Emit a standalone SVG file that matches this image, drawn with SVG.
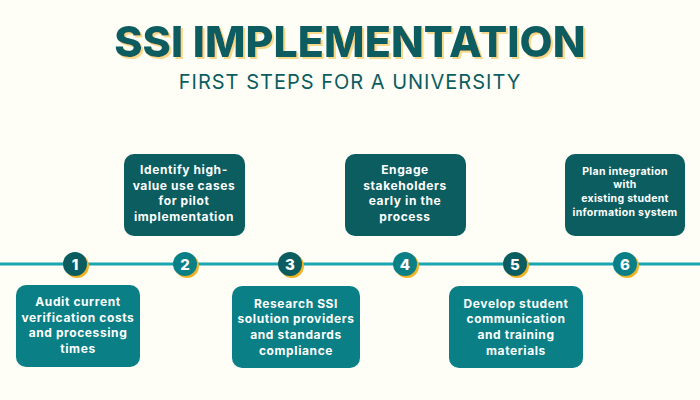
<svg xmlns="http://www.w3.org/2000/svg" width="700" height="400" viewBox="0 0 700 400">
<defs><filter id="sh" x="-5%" y="-20%" width="110%" height="140%"><feDropShadow dx="2" dy="2" stdDeviation="0" flood-color="#f7d98a"/></filter></defs>
<style>
.t{font-family:Inter,"Liberation Sans",sans-serif;font-weight:700;font-size:12px;fill:#fff;text-anchor:middle;letter-spacing:0.6px}
.n{font-family:Inter,"Liberation Sans",sans-serif;font-weight:800;font-size:15px;fill:#fff;text-anchor:middle}
.d{fill:#0b5d60}.l{fill:#0a8086}
</style>
<rect width="700" height="400" fill="#fefdf6"/>
<g id="title">
<text x="350" y="57" font-family="Inter,'Liberation Sans',sans-serif" font-weight="800" font-size="43" fill="#0b5d60" text-anchor="middle" filter="url(#sh)">SSI IMPLEMENTATION</text>
<text x="350" y="89" font-family="Inter,'Liberation Sans',sans-serif" font-size="20" fill="#0b5d60" text-anchor="middle" letter-spacing="1">FIRST STEPS FOR A UNIVERSITY</text>
</g>
<g id="connectors"><line x1="0" y1="264" x2="700" y2="264" stroke="#1aa6b0" stroke-width="3"/></g>
<g id="m1"><circle cx="77" cy="266" r="12" fill="#f0b323"/><circle cx="75" cy="264" r="12" class="d"/><text x="75" y="270" class="n">1</text></g>
<g id="m2"><circle cx="187" cy="266" r="12" fill="#f0b323"/><circle cx="185" cy="264" r="12" class="l"/><text x="185" y="270" class="n">2</text></g>
<g id="m3"><circle cx="292" cy="266" r="12" fill="#f0b323"/><circle cx="290" cy="264" r="12" class="d"/><text x="290" y="270" class="n">3</text></g>
<g id="m4"><circle cx="407" cy="266" r="12" fill="#f0b323"/><circle cx="405" cy="264" r="12" class="l"/><text x="405" y="270" class="n">4</text></g>
<g id="m5"><circle cx="517" cy="266" r="12" fill="#f0b323"/><circle cx="515" cy="264" r="12" class="d"/><text x="515" y="270" class="n">5</text></g>
<g id="m6"><circle cx="627" cy="266" r="12" fill="#f0b323"/><circle cx="625" cy="264" r="12" class="l"/><text x="625" y="270" class="n">6</text></g>
<g id="s1"><rect x="16" y="285" width="124" height="82" rx="10" class="l"/><text class="t"><tspan x="78" y="306">Audit current</tspan><tspan x="78" y="322">verification costs</tspan><tspan x="78" y="337">and processing</tspan><tspan x="78" y="353">times</tspan></text></g>
<g id="s2"><rect x="124" y="154" width="121" height="82" rx="10" class="d"/><text class="t"><tspan x="184" y="174">Identify high-</tspan><tspan x="184" y="190">value use cases</tspan><tspan x="184" y="205">for pilot</tspan><tspan x="184" y="221">implementation</tspan></text></g>
<g id="s3"><rect x="232" y="286" width="128" height="82" rx="10" class="l"/><text class="t"><tspan x="296" y="308">Research SSI</tspan><tspan x="296" y="323">solution providers</tspan><tspan x="296" y="339">and standards</tspan><tspan x="296" y="355">compliance</tspan></text></g>
<g id="s4"><rect x="345" y="154" width="121" height="82" rx="10" class="d"/><text class="t"><tspan x="405" y="174">Engage</tspan><tspan x="405" y="190">stakeholders</tspan><tspan x="405" y="205">early in the</tspan><tspan x="405" y="221">process</tspan></text></g>
<g id="s5"><rect x="449" y="286" width="134" height="82" rx="10" class="l"/><text class="t"><tspan x="516" y="308">Develop student</tspan><tspan x="516" y="323">communication</tspan><tspan x="516" y="339">and training</tspan><tspan x="516" y="355">materials</tspan></text></g>
<g id="s6"><rect x="565" y="154" width="120" height="82" rx="10" class="d"/><text class="t" style="font-size:10.5px;letter-spacing:0.3px"><tspan x="625" y="175">Plan integration</tspan><tspan x="625" y="188">with</tspan><tspan x="625" y="202">existing student</tspan><tspan x="625" y="216">information system</tspan></text></g>
</svg>
